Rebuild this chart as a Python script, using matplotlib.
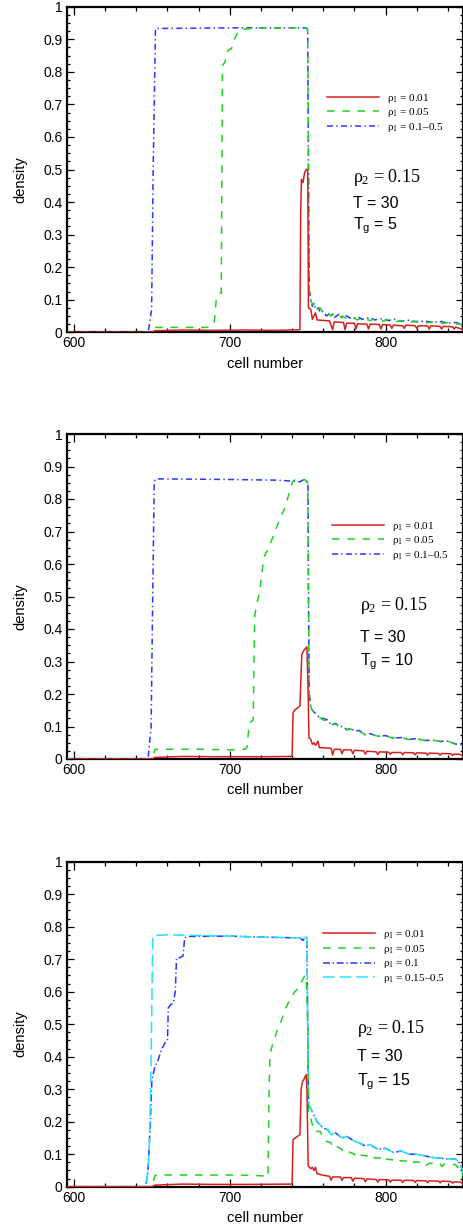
import matplotlib
matplotlib.use("Agg")
import matplotlib.pyplot as plt
from matplotlib.ticker import MultipleLocator

plt.rcParams["font.family"] = ["Liberation Sans", "DejaVu Sans"]
plt.rcParams["mathtext.fontset"] = "custom"
plt.rcParams["mathtext.rm"] = "Liberation Serif"
plt.rcParams["mathtext.it"] = "Liberation Serif"
plt.rcParams["mathtext.bf"] = "Liberation Serif:bold"
plt.rcParams["mathtext.sf"] = "Liberation Sans"
plt.rcParams["lines.scale_dashes"] = False

# ---------------- data: density profiles along the road ----------------
# Panel 1: T_g = 5
p1_red_x = [595, 650, 652, 670, 690, 710, 730, 745, 745.5, 746, 747, 748, 749, 750, 750.5,
            752, 753, 755, 756, 764, 766, 767, 773, 774, 775, 780, 781, 782, 788, 789, 790,
            796, 797, 798, 803, 804, 805, 811, 812, 813, 819, 820, 821, 827, 828, 829,
            835, 836, 837, 843, 844, 845, 850]
p1_red_y = [0, 0, 0.005, 0.007, 0.006, 0.007, 0.006, 0.008, 0.37, 0.47, 0.46, 0.49, 0.5, 0.5, 0.075,
            0.07, 0.04, 0.06, 0.038, 0.035, 0.008, 0.032, 0.03, 0.008, 0.028, 0.028, 0.01, 0.026,
            0.025, 0.01, 0.025, 0.024, 0.01, 0.024, 0.022, 0.012, 0.022, 0.02, 0.012, 0.022,
            0.02, 0.012, 0.02, 0.02, 0.01, 0.02, 0.018, 0.01, 0.018, 0.017, 0.01, 0.016, 0.008]

p1_green_x = [595, 650, 652, 670, 685, 689, 690, 691.5, 693.6, 694.5, 695.3, 697, 698, 700, 701,
              703, 706, 720, 740, 749, 750, 750.5, 751, 752, 753, 755, 756, 758, 760, 762, 765,
              767, 770, 772, 775, 778, 782, 785, 790, 793, 798, 802, 806, 810, 815, 820, 825,
              830, 836, 840, 845, 848, 850]
p1_green_y = [0, 0, 0.015, 0.015, 0.015, 0.02, 0.03, 0.11, 0.12, 0.12, 0.82, 0.83, 0.86, 0.87, 0.87,
              0.9, 0.93, 0.935, 0.935, 0.935, 0.93, 0.5, 0.12, 0.1, 0.085, 0.09, 0.07, 0.075, 0.06,
              0.065, 0.05, 0.058, 0.045, 0.05, 0.042, 0.048, 0.038, 0.045, 0.036, 0.042, 0.034,
              0.04, 0.032, 0.036, 0.03, 0.034, 0.028, 0.032, 0.027, 0.03, 0.025, 0.026, 0.012]

p1_blue_x = [595, 645, 647.6, 649.8, 650.8, 652.3, 700, 749, 750, 750.5, 751, 752, 753, 754, 755,
             757, 758, 760, 762, 765, 767, 770, 772, 775, 778, 782, 785, 790, 793, 798, 802, 806,
             810, 815, 820, 825, 830, 836, 840, 845, 848, 850]
p1_blue_y = [0, 0, 0.0, 0.07, 0.5, 0.933, 0.935, 0.935, 0.93, 0.5, 0.13, 0.1, 0.08, 0.09, 0.07,
             0.075, 0.06, 0.065, 0.05, 0.06, 0.045, 0.055, 0.045, 0.05, 0.042, 0.048, 0.04, 0.045,
             0.038, 0.042, 0.036, 0.04, 0.034, 0.037, 0.032, 0.035, 0.03, 0.033, 0.028, 0.03,
             0.026, 0.012]

# Panel 2: T_g = 10
p2_red_x = [595, 650, 652, 670, 690, 710, 720, 740, 740.6, 741.5, 743, 745, 746.2, 747, 748.5,
            749.5, 750.3, 750.8, 752, 753, 754, 755, 756.6, 757.5, 765, 766, 767, 771, 772, 773,
            778, 779, 780, 786, 787, 788, 794, 795, 796, 802, 803, 804, 810, 811, 812, 818, 819,
            820, 826, 827, 828, 834, 835, 836, 842, 843, 844, 848, 850]
p2_red_y = [0, 0, 0.005, 0.008, 0.007, 0.007, 0.007, 0.008, 0.142, 0.15, 0.155, 0.163, 0.32, 0.33,
            0.34, 0.345, 0.2, 0.065, 0.06, 0.045, 0.05, 0.042, 0.055, 0.035, 0.033, 0.012, 0.03,
            0.03, 0.016, 0.028, 0.028, 0.016, 0.027, 0.025, 0.015, 0.024, 0.022, 0.014, 0.022,
            0.021, 0.014, 0.02, 0.02, 0.013, 0.02, 0.019, 0.013, 0.019, 0.018, 0.012, 0.018,
            0.017, 0.012, 0.017, 0.016, 0.011, 0.015, 0.014, 0.007]

p2_green_x = [595, 650, 652, 680, 700, 709.6, 711, 712.5, 715, 716, 717, 719.2, 721.8, 725, 729,
              733, 735, 737, 740.2, 742, 745, 748, 750, 750.5, 751, 752, 753, 755, 757, 760, 763,
              765, 768, 770, 773, 775, 778, 780, 783, 787, 790, 795, 800, 805, 810, 815, 820,
              825, 830, 835, 840, 845, 848, 850]
p2_green_y = [0, 0, 0.03, 0.03, 0.028, 0.03, 0.035, 0.11, 0.12, 0.44, 0.47, 0.515, 0.62, 0.65, 0.7,
              0.75, 0.768, 0.8, 0.853, 0.86, 0.857, 0.86, 0.85, 0.5, 0.2, 0.16, 0.15, 0.14, 0.13,
              0.12, 0.118, 0.105, 0.108, 0.1, 0.098, 0.09, 0.092, 0.084, 0.086, 0.074, 0.077,
              0.07, 0.071, 0.064, 0.066, 0.06, 0.062, 0.057, 0.058, 0.054, 0.055, 0.046, 0.045,
              0.04]

p2_blue_x = [595, 645, 647.5, 649.5, 650.5, 651.5, 652.5, 700, 730, 740, 745, 747.6, 749, 750.2,
             750.5, 751, 752, 753, 755, 757, 760, 763, 765, 768, 770, 773, 775, 778, 780, 783,
             787, 790, 795, 800, 805, 810, 815, 820, 825, 830, 835, 840, 845, 848, 850]
p2_blue_y = [0, 0, 0, 0.1, 0.5, 0.855, 0.862, 0.86, 0.858, 0.855, 0.853, 0.86, 0.858, 0.85,
             0.5, 0.2, 0.16, 0.15, 0.14, 0.13, 0.125, 0.12, 0.105, 0.11, 0.1, 0.1, 0.09, 0.095,
             0.085, 0.088, 0.075, 0.078, 0.07, 0.072, 0.064, 0.066, 0.06, 0.063, 0.057, 0.058,
             0.054, 0.055, 0.046, 0.045, 0.04]

# Panel 3: T_g = 15
p3_red_x = [595, 650, 652, 670, 690, 710, 740, 740.6, 742, 745, 745.8, 746.5, 748, 749, 749.5,
            750.3, 752, 753, 754, 755, 756, 760, 764, 765, 766, 771, 772, 773, 778, 779, 780,
            786, 787, 788, 794, 795, 796, 802, 803, 804, 810, 811, 812, 818, 819, 820, 826, 827,
            828, 834, 835, 836, 842, 843, 844, 848, 850]
p3_red_y = [0, 0, 0.005, 0.008, 0.007, 0.007, 0.008, 0.145, 0.15, 0.16, 0.3, 0.32, 0.335, 0.345,
            0.3, 0.065, 0.055, 0.06, 0.05, 0.06, 0.04, 0.035, 0.032, 0.02, 0.03, 0.03, 0.02, 0.028,
            0.028, 0.017, 0.026, 0.025, 0.015, 0.024, 0.022, 0.014, 0.022, 0.021, 0.014, 0.02,
            0.02, 0.013, 0.02, 0.019, 0.013, 0.019, 0.018, 0.012, 0.018, 0.017, 0.012, 0.017,
            0.016, 0.011, 0.015, 0.014, 0.007]

p3_green_x = [595, 650, 652, 660, 680, 700, 715, 722, 724.5, 725.2, 725.8, 727, 729, 731, 733,
              735, 737, 739, 741.7, 744, 746, 748, 749, 750, 750.5, 752, 753, 755, 756, 758, 760,
              762, 765, 766, 768, 772, 773, 775, 780, 781, 783, 788, 789, 791, 797, 798, 800,
              806, 807, 809, 815, 816, 818, 825, 826, 828, 835, 836, 838, 845, 846, 848, 850]
p3_green_y = [0, 0, 0.035, 0.036, 0.036, 0.036, 0.035, 0.033, 0.03, 0.3, 0.41, 0.43, 0.46, 0.49,
              0.51, 0.54, 0.56, 0.58, 0.6, 0.61, 0.63, 0.648, 0.65, 0.5, 0.22, 0.21, 0.19, 0.19,
              0.17, 0.17, 0.15, 0.14, 0.135, 0.12, 0.125, 0.115, 0.105, 0.11, 0.1, 0.09, 0.098,
              0.095, 0.085, 0.09, 0.088, 0.078, 0.085, 0.082, 0.075, 0.08, 0.078, 0.07, 0.076,
              0.075, 0.065, 0.072, 0.072, 0.062, 0.07, 0.068, 0.06, 0.06, 0.03]

p3_blue_x = [595, 646, 647.5, 649, 650, 651, 652, 654, 656, 658, 660, 660.5, 662, 663.7, 665,
             665.8, 668, 670, 671, 673, 700, 720, 740, 745, 747, 748.5, 749.5, 750, 750.5, 751,
             752, 754, 756, 758, 760, 763, 765, 768, 772, 775, 780, 783, 787, 790, 795, 800,
             805, 810, 815, 820, 825, 830, 835, 840, 845, 848, 850]
p3_blue_y = [0, 0, 0.05, 0.2, 0.33, 0.35, 0.37, 0.39, 0.42, 0.44, 0.45, 0.55, 0.56, 0.565, 0.6,
             0.703, 0.705, 0.71, 0.765, 0.77, 0.771, 0.768, 0.766, 0.765, 0.758, 0.768, 0.765, 0.5,
             0.27, 0.25, 0.24, 0.22, 0.2, 0.19, 0.18, 0.175, 0.16, 0.165, 0.15, 0.155, 0.14,
             0.135, 0.125, 0.13, 0.115, 0.118, 0.105, 0.11, 0.1, 0.1, 0.095, 0.09, 0.088, 0.085,
             0.085, 0.07, 0.04]

p3_cyan_x = [595, 646, 647.5, 648.5, 649.5, 650.5, 651.5, 660, 680, 700, 720, 740, 745, 747,
             748.5, 749.5, 750, 750.5, 751, 752, 754, 756, 758, 760, 763, 765, 768, 772, 775,
             780, 783, 787, 790, 795, 800, 805, 810, 815, 820, 825, 830, 835, 840, 845, 848, 850]
p3_cyan_y = [0, 0, 0.05, 0.15, 0.4, 0.76, 0.773, 0.775, 0.773, 0.771, 0.768, 0.766, 0.765, 0.758,
             0.768, 0.765, 0.5, 0.27, 0.25, 0.24, 0.22, 0.2, 0.19, 0.18, 0.175, 0.16, 0.165, 0.15,
             0.155, 0.14, 0.135, 0.125, 0.13, 0.115, 0.118, 0.105, 0.11, 0.1, 0.1, 0.095, 0.09,
             0.088, 0.085, 0.085, 0.07, 0.04]

x_ticks = [600, 700, 800]
y_ticks = [0, 0.1, 0.2, 0.3, 0.4, 0.5, 0.6, 0.7, 0.8, 0.9, 1]
y_ticklabels = ["0", "0.1", "0.2", "0.3", "0.4", "0.5", "0.6", "0.7", "0.8", "0.9", "1"]

rho2_text = r"$\rho_2$ = 0.15"
T_text = "T = 30"
Tg_values = [5, 10, 15]

# ---------------- styles ----------------
RED = "#d62020"
GREEN = "#1fd21f"
BLUE = "#2436ff"
CYAN = "#20e4ff"
LW = 1.1
DASH_GREEN = (0, (5.4, 5.6))
DASH_BLUE = (0, (4.3, 2.4, 1.0, 2.4))
DASH_BLUE3 = (0, (5.0, 2.0, 0.9, 2.0))
DASH_CYAN = (0, (8.4, 3.6))
LEGEND_KW = dict(loc="upper left", frameon=False,
                 prop={"family": "Liberation Serif", "size": 8},
                 handlelength=4.7, handletextpad=0.7, labelspacing=0.14,
                 borderpad=0, borderaxespad=0)

W, H = 464, 1225
fig = plt.figure(figsize=(W / 100, H / 100), dpi=100)

left_px, right_px = 66.7, 462.7
panel_px = [(6.7, 332.3), (434.0, 759.0), (861.7, 1186.7)]
axes = []
for top, bot in panel_px:
    ax = fig.add_axes([left_px / W, 1 - bot / H, (right_px - left_px) / W, (bot - top) / H])
    axes.append(ax)


def style_axes(ax):
    ax.set_xlim(595.3, 849.5)
    ax.set_ylim(0, 1)
    ax.set_xticks(x_ticks)
    ax.set_yticks(y_ticks)
    ax.set_yticklabels(y_ticklabels)
    ax.xaxis.set_minor_locator(MultipleLocator(20))
    ax.yaxis.set_minor_locator(MultipleLocator(0.025))
    ax.tick_params(which="both", direction="in", top=True, right=True, width=0.9,
                   labelsize=10, colors="black")
    ax.tick_params(axis="x", which="major", length=5.5, pad=3)
    ax.tick_params(axis="x", which="minor", length=3)
    ax.tick_params(axis="y", which="major", length=5, pad=3)
    ax.tick_params(axis="y", which="minor", length=2.5)
    for s in ax.spines.values():
        s.set_linewidth(1.6)
    ax.set_xlabel("cell number", fontsize=10.5)
    ax.set_ylabel("density", fontsize=10.5)
    ax.xaxis.set_label_coords(0.5, -0.075)
    ax.yaxis.set_label_coords(-0.1, 0.47)


def add_notes(ax, x, ys, tg):
    ax.text(x, ys[0], rho2_text, transform=ax.transAxes, fontsize=13,
            family="Liberation Serif", va="center", ha="left")
    ax.text(x, ys[1], T_text, transform=ax.transAxes, fontsize=11.5, va="center", ha="left")
    ax.text(x, ys[2], r"T$_\mathsf{g}$ = %d" % tg, transform=ax.transAxes, fontsize=11.5,
            va="center", ha="left")


# Panel 1
ax = axes[0]
ax.plot(p1_blue_x, p1_blue_y, color=BLUE, lw=LW, ls=DASH_BLUE, zorder=2,
        label=r"$\rho_1$ = 0.1–0.5")
ax.plot(p1_green_x, p1_green_y, color=GREEN, lw=LW, ls=DASH_GREEN, zorder=3,
        label=r"$\rho_1$ = 0.05")
ax.plot(p1_red_x, p1_red_y, color=RED, lw=LW, ls="-", zorder=4, label=r"$\rho_1$ = 0.01")
style_axes(ax)
h, l = ax.get_legend_handles_labels()
ax.legend(h[::-1], l[::-1], bbox_to_anchor=(0.657, 0.739), **LEGEND_KW)
add_notes(ax, 0.723, (0.474, 0.397, 0.326), Tg_values[0])

# Panel 2
ax = axes[1]
ax.plot(p2_blue_x, p2_blue_y, color=BLUE, lw=LW, ls=DASH_BLUE, zorder=2,
        label=r"$\rho_1$ = 0.1–0.5")
ax.plot(p2_green_x, p2_green_y, color=GREEN, lw=LW, ls=DASH_GREEN, zorder=3,
        label=r"$\rho_1$ = 0.05")
ax.plot(p2_red_x, p2_red_y, color=RED, lw=LW, ls="-", zorder=4, label=r"$\rho_1$ = 0.01")
style_axes(ax)
h, l = ax.get_legend_handles_labels()
ax.legend(h[::-1], l[::-1], bbox_to_anchor=(0.67, 0.736), **LEGEND_KW)
add_notes(ax, 0.741, (0.471, 0.375, 0.298), Tg_values[1])

# Panel 3
ax = axes[2]
ax.plot(p3_blue_x, p3_blue_y, color=BLUE, lw=LW, ls=DASH_BLUE3, zorder=2,
        label=r"$\rho_1$ = 0.1")
ax.plot(p3_cyan_x, p3_cyan_y, color=CYAN, lw=LW, ls=DASH_CYAN, zorder=3,
        label=r"$\rho_1$ = 0.15–0.5")
ax.plot(p3_green_x, p3_green_y, color=GREEN, lw=LW, ls=DASH_GREEN, zorder=4,
        label=r"$\rho_1$ = 0.05")
ax.plot(p3_red_x, p3_red_y, color=RED, lw=LW, ls="-", zorder=5, label=r"$\rho_1$ = 0.01")
style_axes(ax)
h, l = ax.get_legend_handles_labels()
order = [3, 2, 0, 1]
ax.legend([h[i] for i in order], [l[i] for i in order],
          bbox_to_anchor=(0.647, 0.795), **LEGEND_KW)
add_notes(ax, 0.733, (0.488, 0.40, 0.323), Tg_values[2])

fig.savefig("out.png", dpi=100)
